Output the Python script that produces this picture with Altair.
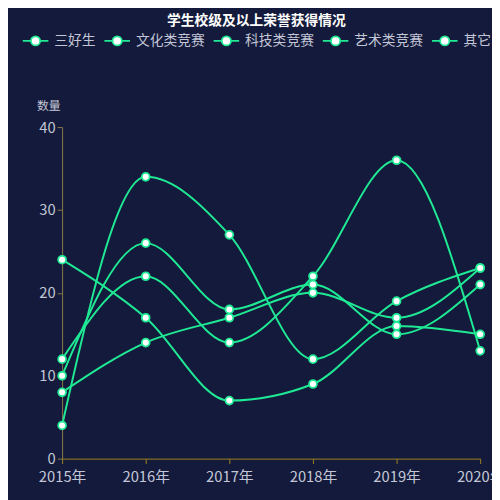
import altair as alt
import pandas as pd

years = ["2015年", "2016年", "2017年", "2018年", "2019年", "2020年"]
names = ["三好生", "文化类竞赛", "科技类竞赛", "艺术类竞赛", "其它"]
v_sanhaosheng = [4, 34, 27, 12, 19, 23]
v_wenhua = [24, 17, 7, 9, 16, 15]
v_keji = [12, 22, 14, 22, 36, 13]
v_yishu = [10, 26, 18, 21, 15, 21]
v_qita = [8, 14, 17, 20, 17, 23]
series_values = [v_sanhaosheng, v_wenhua, v_keji, v_yishu, v_qita]

rows = []
for n, vals in zip(names, series_values):
    for y, v in zip(years, vals):
        rows.append({"year": y, "series": n, "value": v})
df = pd.DataFrame(rows)

GREEN = "#1fe994"
BG = "#131a3b"
FONT = "Noto Sans CJK SC"
LABEL = "#c3c6d6"

sym_path = ("M-1,0H-0.36M0.36,0H1"
            "M-0.36,0A0.36,0.36,0,1,0,0.36,0A0.36,0.36,0,1,0,-0.36,0Z")

x = alt.X("year:O", sort=years, scale=alt.Scale(type="point", padding=0),
          axis=alt.Axis(title=None, labelAngle=0, domainColor="#a0821e",
                        tickColor="#a0821e", tickSize=5, labelPadding=6,
                        labelFontSize=15, labelColor=LABEL, labelFont=FONT))
y = alt.Y("value:Q", scale=alt.Scale(domain=[0, 40], nice=False),
          axis=alt.Axis(title="数量", values=[0, 10, 20, 30, 40], grid=False,
                        domainColor="#8a7a48", tickColor="#8a7a48", tickSize=5,
                        labelPadding=2, labelFontSize=15, labelColor=LABEL,
                        labelFont=FONT, titleAngle=0, titleX=-14, titleY=-22,
                        titleAlign="center", titleBaseline="middle",
                        titleFontSize=12, titleFontWeight="normal",
                        titleColor=LABEL, titleFont=FONT))
color = alt.Color("series:N", sort=names,
                  scale=alt.Scale(domain=names, range=[GREEN] * 5),
                  legend=alt.Legend(title=None, orient="none", direction="horizontal",
                                    legendX=-41, legendY=-102, columns=5,
                                    symbolType=sym_path, symbolSize=676,
                                    symbolFillColor="white", symbolStrokeColor=GREEN,
                                    symbolStrokeWidth=1.8, symbolOpacity=1,
                                    labelFontSize=14, labelColor=LABEL, labelFont=FONT,
                                    labelOffset=5, columnPadding=5))

base = alt.Chart(df).encode(x=x, y=y, color=color, detail="series:N")
lines = base.mark_line(interpolate="monotone", strokeWidth=2)
points = base.mark_point(filled=False, fill="white", fillOpacity=1, opacity=1,
                         size=64, strokeWidth=1.8)

chart = alt.layer(lines, points).properties(
    width=425, height=337,
    autosize=alt.AutoSizeParams(type="none"),
    padding={"left": 55, "top": 117, "right": 12, "bottom": 38},
    title=alt.Title("学生校级及以上荣誉获得情况", anchor="middle", frame="group",
                    dx=-15, offset=-1, fontSize=14, fontWeight="bold",
                    color="white", font=FONT),
).configure(background=BG).configure_view(stroke=None)

chart.save("out.html", embed_options={"renderer": "svg", "actions": False})
